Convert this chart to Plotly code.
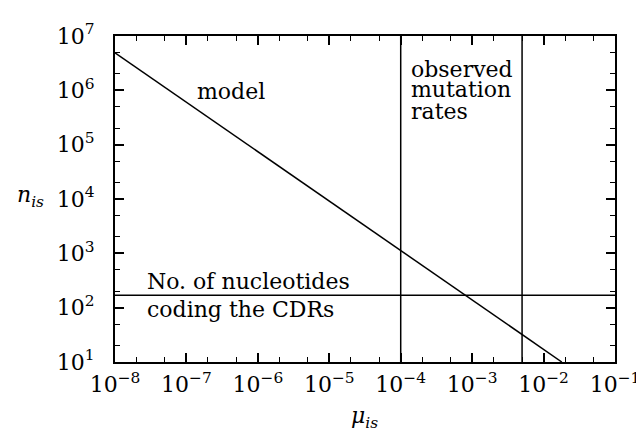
import plotly.graph_objects as go

# data
model_mu = [1e-8, 1.8e-2]
model_n = [4.9e6, 10]
observed_rates = [1e-4, 5e-3]
cdr_nucleotides = 170
x_range_exp = [-8, -1]
y_range_exp = [1, 7]
x_tick_exps = [-8, -7, -6, -5, -4, -3, -2, -1]
y_tick_exps = [1, 2, 3, 4, 5, 6, 7]

FONT = "DejaVu Serif"
fig = go.Figure()

line = dict(color="black", width=1.5)
fig.add_trace(go.Scatter(x=model_mu, y=model_n, mode="lines", line=line))
for r in observed_rates:
    fig.add_trace(go.Scatter(x=[r, r], y=[10 ** y_range_exp[0], 10 ** y_range_exp[1]],
                             mode="lines", line=line))
fig.add_trace(go.Scatter(x=[10 ** x_range_exp[0], 10 ** x_range_exp[1]],
                         y=[cdr_nucleotides, cdr_nucleotides], mode="lines", line=line))

axis_common = dict(type="log", showgrid=False, zeroline=False, showline=True,
                   linecolor="black", linewidth=2, mirror="allticks",
                   ticks="inside", ticklen=9, tickwidth=1.5, tickcolor="black",
                   minor=dict(ticks="inside", ticklen=5, tickwidth=1, tickcolor="black",
                              dtick="D2", showgrid=False),
                   tickfont=dict(family=FONT, size=22, color="black"))

fig.update_xaxes(range=x_range_exp,
                 tickvals=[10 ** e for e in x_tick_exps],
                 ticktext=[f"10<sup>\u2212{-e}</sup>" for e in x_tick_exps],
                 ticklabelstandoff=2, **axis_common)
fig.update_yaxes(range=y_range_exp,
                 tickvals=[10 ** e for e in y_tick_exps],
                 ticktext=[f"10<sup>{e}</sup>" for e in y_tick_exps],
                 ticklabelstandoff=14, **axis_common)

tf = dict(family=FONT, size=22, color="black")
ann = [
    dict(text="model", x=189, y=78, xanchor="left"),
    dict(text="observed", x=407, y=55, xanchor="left"),
    dict(text="mutation", x=407, y=76, xanchor="left"),
    dict(text="rates", x=407, y=98, xanchor="left"),
    dict(text="No. of nucleotides", x=139, y=272, xanchor="left"),
    dict(text="coding the CDRs", x=139, y=300, xanchor="left"),
    dict(text="<i>n</i><sub><i>is</i></sub>", x=6, y=185, xanchor="left"),
    dict(text="<i>\u03bc</i><sub><i>is</i></sub>", x=360, y=411, xanchor="center"),
]

L, R, T, B = 107, 29, 21, 78
pw, ph = 644 - L - R, 432 - T - B
for a in ann:
    fig.add_annotation(text=a["text"], x=(a["x"] - L) / pw, y=1 - (a["y"] - T) / ph,
                       xref="paper", yref="paper", xanchor=a["xanchor"],
                       yanchor="middle", showarrow=False, font=tf, align="left",
                       borderpad=0)

fig.update_layout(width=644, height=432, margin=dict(l=L, r=R, t=T, b=B),
                  paper_bgcolor="white", plot_bgcolor="white", showlegend=False,
                  font=dict(family=FONT, color="black"))
fig.write_html("out.html")
